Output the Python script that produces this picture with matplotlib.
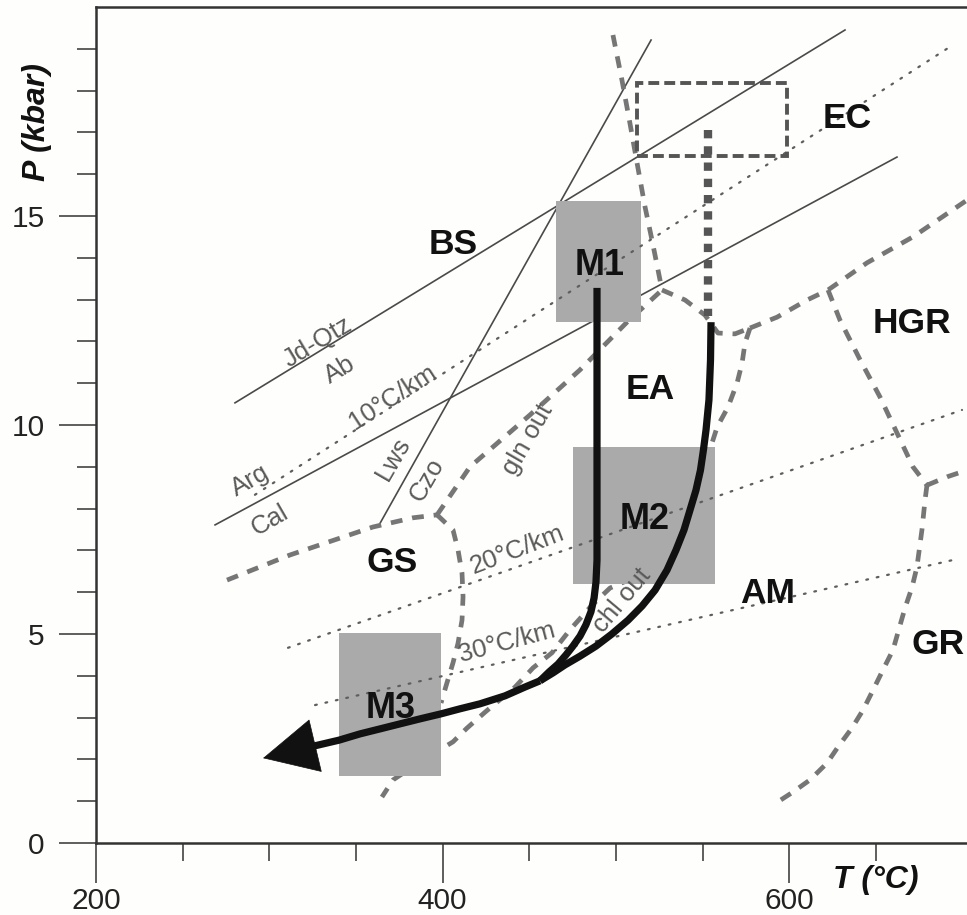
import matplotlib
matplotlib.use("Agg")
import matplotlib.pyplot as plt
from matplotlib.patches import Rectangle

plt.rcParams['font.family'] = ['Liberation Sans', 'DejaVu Sans']

# ---------------- data (T in degC, P in kbar) ----------------
# reaction curves
jdqtz_T = [280.2, 632.2]
jdqtz_P = [10.53, 19.45]
argcal_T = [268.7, 662.2]
argcal_P = [7.61, 16.41]
lwsczo_T = [362.7, 520.3]
lwsczo_P = [7.56, 19.21]

# geotherms
geo10_T = [291.7, 691.0]
geo10_P = [8.33, 19.00]
geo20_T = [310.8, 699.7]
geo20_P = [4.67, 10.36]
geo30_T = [326.4, 694.5]
geo30_P = [3.30, 6.77]

# facies boundaries
gs_bs_T = [275.6, 311.9, 359.8, 382.9, 396.8]
gs_bs_P = [6.29, 6.89, 7.56, 7.78, 7.85]
gs_ea_T = [396.8, 406.0, 408.9, 411.2, 411.8, 411.2, 408.9, 406.0, 402.5, 399.1]
gs_ea_P = [7.85, 7.49, 7.01, 6.46, 5.89, 5.33, 4.78, 4.31, 3.83, 3.35]
gln_T = [396.8, 415.8, 450.4, 479.3, 506.4, 526.6]
gln_P = [7.85, 9.00, 10.24, 11.32, 12.46, 13.23]
bs_ec_T = [498.3, 503.5, 508.1, 512.2, 516.8, 520.8, 524.3, 526.6]
bs_ec_P = [19.33, 18.25, 17.22, 16.27, 15.22, 14.43, 13.71, 13.23]
ea_ec_T = [526.6, 539.9, 551.4, 558.9, 568.7, 577.4]
ea_ec_P = [13.23, 12.99, 12.63, 12.20, 12.18, 12.32]
hgr_top_T = [577.4, 593.0, 610.3, 622.4, 644.9, 671.4, 702.6]
hgr_top_P = [12.32, 12.58, 12.99, 13.23, 13.88, 14.50, 15.38]
ea_am_T = [577.4, 574.5, 572.8, 569.9, 564.7, 558.4, 548.6, 531.2, 513.9, 496.6,
           486.2, 473.5, 463.1, 452.2, 441.8, 424.5, 414.1, 406.0, 387.0, 371.4, 365.0]
ea_am_P = [12.32, 11.96, 11.48, 11.00, 10.43, 9.95, 8.68, 7.25, 6.41, 6.10,
           5.69, 5.10, 4.55, 4.19, 3.73, 3.13, 2.75, 2.42, 1.94, 1.51, 1.10]
hgr_gr_T = [622.4, 629.3, 640.9, 652.4, 662.2, 671.4, 679.5]
hgr_gr_P = [13.23, 12.51, 11.56, 10.67, 9.81, 9.00, 8.56]
gr_east_T = [679.5, 691.1, 702.6]
gr_east_P = [8.56, 8.76, 8.92]
am_gr_T = [679.5, 678.4, 676.6, 673.7, 670.9, 666.8, 659.9, 654.1, 648.4, 642.6,
           636.2, 628.2, 621.8, 612.0, 602.2, 590.7]
am_gr_P = [8.56, 8.21, 7.49, 6.60, 6.12, 5.62, 4.62, 4.14, 3.66, 3.18,
           2.75, 2.30, 1.91, 1.51, 1.22, 0.91]

# metamorphic stages (T range, P range)
stage_names = ['M1', 'M2', 'M3']
stage_tmin = [465.4, 475.2, 340.2]
stage_tmax = [514.5, 557.2, 399.1]
stage_pmin = [12.46, 6.20, 1.60]
stage_pmax = [15.36, 9.47, 5.02]

# eclogite-facies peak field
ec_T = [512.2, 598.7]
ec_P = [16.44, 18.18]

# inferred prograde link to the eclogite field
link_T = [553.1, 553.1]
link_P = [17.06, 12.60]

# P-T paths
path1_T = [489.1, 489.1, 488.5, 487.4, 485.6, 482.7, 479.3, 475.2, 471.2, 466.6,
           461.4, 456.2]
path1_P = [13.28, 6.77, 6.24, 5.86, 5.53, 5.22, 4.95, 4.71, 4.50, 4.28,
           4.09, 3.88]
path2_T = [554.9, 554.6, 553.7, 552.0, 550.5, 548.8, 546.2, 542.8, 539.3, 534.7,
           529.5, 522.6, 515.1, 507.0, 497.7, 488.5, 479.3, 470.6, 463.7, 456.2]
path2_P = [12.46, 11.56, 10.60, 9.88, 9.40, 8.92, 8.44, 7.97, 7.49, 7.01,
           6.53, 6.05, 5.67, 5.33, 5.00, 4.71, 4.47, 4.26, 4.07, 3.88]
retro_T = [456.2, 447.5, 436.0, 421.6, 410.0, 399.1, 387.0, 375.4, 363.9, 352.3,
           340.2, 325.8, 296.4]
retro_P = [3.88, 3.73, 3.52, 3.33, 3.21, 3.09, 2.97, 2.85, 2.73, 2.61,
           2.46, 2.32, 2.03]

# axis ticks
xticks_major = [200, 400, 600]
xticks_minor = [250, 300, 350, 450, 500, 550, 650]
yticks_major = [0, 5, 10, 15]
yticks_minor = [1, 2, 3, 4, 6, 7, 8, 9, 11, 12, 13, 14, 16, 17, 18, 19]

# ---------------- figure ----------------
bg = '#fefefc'
fig = plt.figure(figsize=(9.67, 9.15), dpi=100, facecolor=bg)
ax = fig.add_axes([96 / 967, 72 / 915, 1 - 96 / 967, 836 / 915], facecolor=bg)
ax.set_xlim(200, 702.6)
ax.set_ylim(0, 20)

solid_kw = dict(color='#4a4a4a', lw=1.2, zorder=1)
for t, p in [(jdqtz_T, jdqtz_P), (argcal_T, argcal_P), (lwsczo_T, lwsczo_P)]:
    ax.plot(t, p, **solid_kw)

dash_kw = dict(color='#767676', lw=3.4, linestyle=(0, (2.5, 2.1)),
               dash_capstyle='butt', zorder=1.5)
for t, p in [(gs_bs_T, gs_bs_P), (gs_ea_T, gs_ea_P), (gln_T, gln_P),
             (bs_ec_T, bs_ec_P), (ea_ec_T, ea_ec_P), (hgr_top_T, hgr_top_P),
             (ea_am_T, ea_am_P), (hgr_gr_T, hgr_gr_P), (gr_east_T, gr_east_P),
             (am_gr_T, am_gr_P)]:
    ax.plot(t, p, **dash_kw)

for name, t0, t1, p0, p1 in zip(stage_names, stage_tmin, stage_tmax, stage_pmin, stage_pmax):
    ax.add_patch(Rectangle((t0, p0), t1 - t0, p1 - p0, facecolor='#aaaaaa',
                           edgecolor='none', zorder=2))

dot_kw = dict(color='#5e5e5e', lw=1.6, linestyle=(0, (0.8, 4.0)),
              dash_capstyle='round', zorder=3)
for t, p in [(geo10_T, geo10_P), (geo20_T, geo20_P), (geo30_T, geo30_P)]:
    ax.plot(t, p, **dot_kw)

ax.add_patch(Rectangle((ec_T[0], ec_P[0]), ec_T[1] - ec_T[0], ec_P[1] - ec_P[0],
                       facecolor='none', edgecolor='#555555', lw=2.8,
                       linestyle=(0, (2.8, 1.3)), zorder=3))
ax.plot(link_T, link_P, color='#555555', lw=6.0, linestyle=(0, (1, 0.95)),
        dash_capstyle='butt', zorder=3)

path_kw = dict(color='#111111', lw=5.2, solid_capstyle='butt',
               solid_joinstyle='round', zorder=4)
ax.plot(path1_T, path1_P, **path_kw)
ax.plot(path2_T, path2_P, **path_kw)
ax.plot(retro_T[:-1], retro_P[:-1], **path_kw)
ax.annotate('', xy=(retro_T[-1], retro_P[-1]), xytext=(retro_T[-2], retro_P[-2]),
            arrowprops=dict(arrowstyle='-|>,head_length=0.4,head_width=0.2',
                            mutation_scale=95, color='#111111', lw=0.5,
                            shrinkA=0, shrinkB=0), zorder=4)

# stage labels
for name, t0, t1, p0, p1 in zip(stage_names, stage_tmin, stage_tmax, stage_pmin, stage_pmax):
    ax.text((t0 + t1) / 2 + 0.5, (p0 + p1) / 2 - 0.1, name, fontsize=26,
            fontweight='bold', ha='center', va='center', color='#111111', zorder=6)

# facies labels
facies = [('BS', 406.0, 14.31), ('EC', 633.4, 17.34), ('EA', 519.7, 10.84),
          ('HGR', 670.9, 12.44), ('AM', 587.8, 5.98), ('GR', 685.9, 4.74),
          ('GS', 370.8, 6.70)]
for s, x, y in facies:
    ax.text(x, y, s, fontsize=25.5, fontweight='bold', ha='center', va='center',
            color='#111111', zorder=6)

# reaction / geotherm labels
small = [('Jd-Qtz', 328.1, 11.99, 31), ('Ab', 340.8, 11.32, 31),
         ('10°C/km', 371.4, 10.67, 33), ('Arg', 288.9, 8.68, 30),
         ('Cal', 300.4, 7.73, 30), ('Lws', 371.4, 9.19, 60),
         ('Czo', 391.0, 8.68, 60), ('gln out', 449.3, 9.64, 60),
         ('20°C/km', 442.9, 7.01, 21), ('30°C/km', 437.2, 4.81, 15),
         ('chl out', 503.5, 5.81, 50)]
for s, x, y, r in small:
    ax.text(x, y, s, fontsize=18.5, color='#5a5a5a', rotation=r,
            rotation_mode='anchor', ha='center', va='center', zorder=6)

# axes styling
for side in ['left', 'bottom', 'top']:
    ax.spines[side].set_linewidth(1.8)
    ax.spines[side].set_color('#333333')
ax.spines['right'].set_visible(False)

ax.set_xticks(xticks_major)
ax.set_xticks(xticks_minor, minor=True)
ax.set_yticks(yticks_major)
ax.set_yticks(yticks_minor, minor=True)
ax.set_xticklabels([str(v) for v in xticks_major])
ax.set_yticklabels([str(v) for v in yticks_major])
ax.tick_params(axis='x', which='major', length=29, width=1.1, pad=3,
               labelsize=21.5, color='#333333', labelcolor='#222222')
ax.tick_params(axis='x', which='minor', length=13, width=1.1, color='#333333')
ax.tick_params(axis='y', which='major', length=27, width=1.1, pad=10,
               labelsize=21.5, color='#333333', labelcolor='#222222')
ax.tick_params(axis='y', which='minor', length=14, width=1.1, color='#333333')

fig.text(37 / 967, 1 - 122 / 915, 'P (kbar)', rotation=90, fontsize=23,
         fontweight='bold', fontstyle='italic', ha='center', va='center',
         color='#111111')
fig.text(876 / 967, 1 - 880 / 915, 'T (°C)', fontsize=23, fontweight='bold',
         fontstyle='italic', ha='center', va='center', color='#111111')

fig.savefig('out.png', dpi=100, facecolor=bg)
